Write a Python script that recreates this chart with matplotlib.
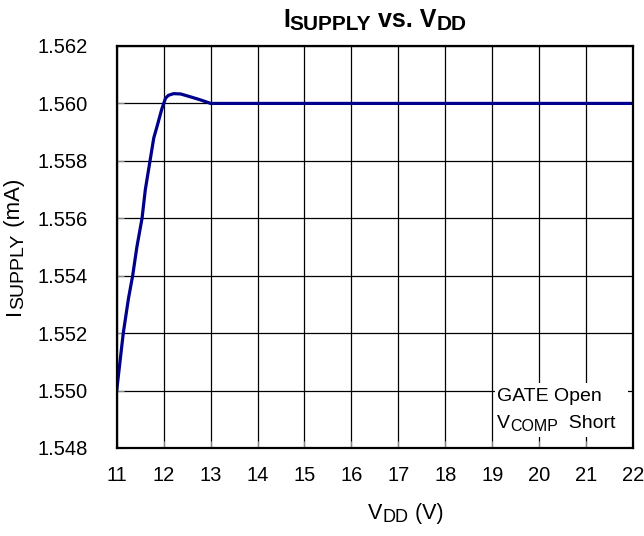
import matplotlib
matplotlib.use('Agg')
import matplotlib.pyplot as plt
from matplotlib.patches import Rectangle

plt.rcParams['font.family'] = ['Liberation Sans', 'DejaVu Sans']

# V_DD (V) vs I_SUPPLY (mA)
vdd = [11.0, 11.14, 11.25, 11.34, 11.43, 11.54, 11.61, 11.71, 11.79, 11.86,
       11.96, 12.04, 12.1, 12.21, 12.36, 12.57, 12.79, 13.0, 14.0, 16.0,
       18.0, 20.0, 22.0]
isupply = [1.5500, 1.5520, 1.5532, 1.5540, 1.5550, 1.5560, 1.5570, 1.5580,
           1.5588, 1.5592, 1.5598, 1.56018, 1.56028, 1.56034, 1.56033,
           1.56023, 1.56012, 1.5600, 1.5600, 1.5600, 1.5600, 1.5600, 1.5600]

xticks = list(range(11, 23))
yticks = [1.548, 1.550, 1.552, 1.554, 1.556, 1.558, 1.560, 1.562]


def rich(ax, x, y, parts, rotation=0, **kw):
    """Chain text pieces (text, size, shift in pt) so subscripts can be
    bigger than mathtext allows. Returns the list of Text objects."""
    out = []
    if rotation == 0:
        first = ax.text(x, y, parts[0][0], fontsize=parts[0][1], ha='left',
                        va='bottom', transform=ax.transAxes, **kw)
    else:
        first = ax.text(x, y, parts[0][0], fontsize=parts[0][1], ha='right',
                        va='bottom', rotation=90, transform=ax.transAxes, **kw)
    out.append(first)
    prev = first
    for s, fs, dy in parts[1:]:
        if rotation == 0:
            t = ax.annotate(s, xy=(1, 0), xycoords=(prev, first),
                            xytext=(0, dy), textcoords='offset points',
                            fontsize=fs, ha='left', va='bottom',
                            annotation_clip=False, **kw)
        else:
            t = ax.annotate(s, xy=(1, 1), xycoords=(first, prev),
                            xytext=(-dy, 0), textcoords='offset points',
                            fontsize=fs, ha='right', va='bottom', rotation=90,
                            annotation_clip=False, **kw)
        out.append(t)
        prev = t
    return out


def center(fig, ax, texts, axis, c):
    fig.canvas.draw()
    r = fig.canvas.get_renderer()
    b0 = texts[0].get_window_extent(r)
    b1 = texts[-1].get_window_extent(r)
    x, y = texts[0].get_position()
    if axis == 'x':
        w = (b1.x1 - b0.x0) / ax.bbox.width
        texts[0].set_position((c - w / 2, y))
    else:
        h = (b1.y1 - b0.y0) / ax.bbox.height
        texts[0].set_position((x, c - h / 2))


fig = plt.figure(figsize=(6.44, 5.36), dpi=100)
ax = fig.add_axes([0.1812, 0.1642, 0.8018, 0.75])

ax.plot(vdd, isupply, color='#00008c', lw=2.3, zorder=3)

ax.set_xlim(11, 22)
ax.set_ylim(1.548, 1.562)
ax.set_xticks(xticks)
ax.set_yticks(yticks)
ax.set_yticklabels(['%.3f' % v for v in yticks])
ax.grid(True, color='black', lw=0.9)
ax.set_axisbelow(True)
ax.tick_params(direction='in', length=5, color='#888888', labelsize=14.5)
ax.tick_params(axis='y', pad=21)
ax.tick_params(axis='x', pad=13)
for s in ax.spines.values():
    s.set_linewidth(1.6)
    s.set_zorder(4)

title = rich(ax, 0.5, 1.035,
             [('I', 18, 0), ('SUPPLY', 15, -1.3), (' vs. V', 18, 0),
              ('DD', 15, -1.3)], fontweight='bold')
xlab = rich(ax, 0.5, -0.19,
            [('V', 15.5, 0), ('DD', 13, -1.5), (' (V)', 15.5, 0)])
ylab = rich(ax, -0.178, 0.5,
            [('I', 16, 0), ('SUPPLY', 14, -1.5), (' (mA)', 16, 0)],
            rotation=90)

# white patch behind the condition note
ax.add_patch(Rectangle((0.733, 0.027), 0.257, 0.135, transform=ax.transAxes,
                       facecolor='white', edgecolor='none', zorder=2))
ax.text(0.7366, 0.106, 'GATE Open', transform=ax.transAxes, fontsize=14,
        ha='left', va='bottom', zorder=5)
rich(ax, 0.7366, 0.039, [('V', 14, 0), ('COMP', 11.5, -1.5), ('  Short', 14, 0)],
     zorder=5)

center(fig, ax, title, 'x', 0.5)
center(fig, ax, xlab, 'x', 0.56)
center(fig, ax, ylab, 'y', 0.5)

fig.savefig('out.png', dpi=100)
